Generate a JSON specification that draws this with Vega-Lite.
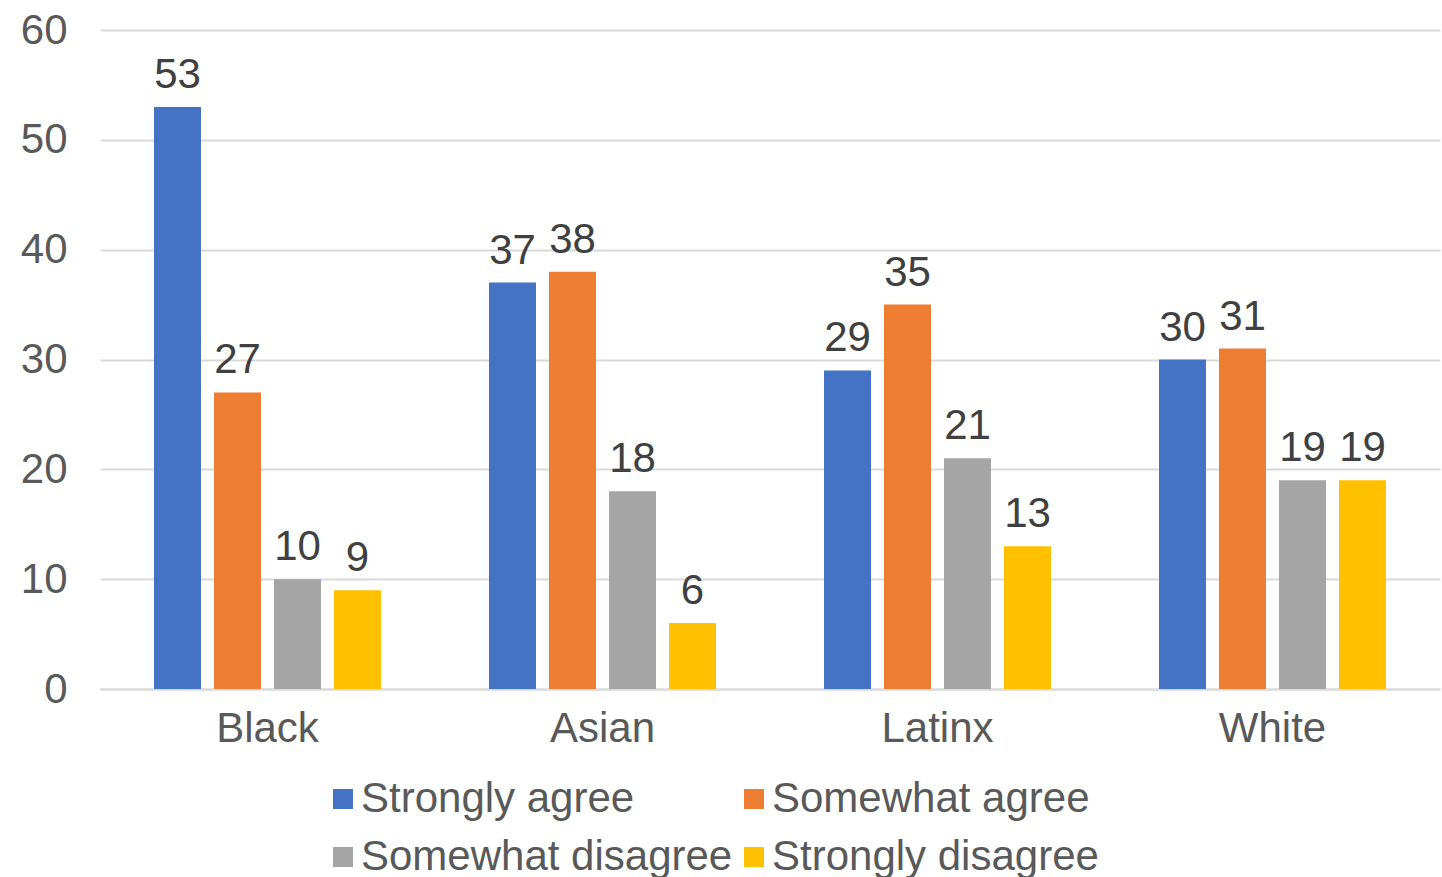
{
  "$schema": "https://vega.github.io/schema/vega-lite/v6.json",
  "autosize": "none",
  "width": 1340,
  "height": 659,
  "padding": {"left": 100, "top": 30, "right": 2, "bottom": 188},
  "background": "white",
  "config": {
    "view": {"stroke": null},
    "font": "Liberation Sans"
  },
  "data": {
    "values": [
      {"group": "Black", "response": "Strongly agree", "value": 53},
      {"group": "Black", "response": "Somewhat agree", "value": 27},
      {"group": "Black", "response": "Somewhat disagree", "value": 10},
      {"group": "Black", "response": "Strongly disagree", "value": 9},
      {"group": "Asian", "response": "Strongly agree", "value": 37},
      {"group": "Asian", "response": "Somewhat agree", "value": 38},
      {"group": "Asian", "response": "Somewhat disagree", "value": 18},
      {"group": "Asian", "response": "Strongly disagree", "value": 6},
      {"group": "Latinx", "response": "Strongly agree", "value": 29},
      {"group": "Latinx", "response": "Somewhat agree", "value": 35},
      {"group": "Latinx", "response": "Somewhat disagree", "value": 21},
      {"group": "Latinx", "response": "Strongly disagree", "value": 13},
      {"group": "White", "response": "Strongly agree", "value": 30},
      {"group": "White", "response": "Somewhat agree", "value": 31},
      {"group": "White", "response": "Somewhat disagree", "value": 19},
      {"group": "White", "response": "Strongly disagree", "value": 19}
    ]
  },
  "encoding": {
    "x": {
      "field": "group", "type": "nominal",
      "sort": ["Black", "Asian", "Latinx", "White"],
      "scale": {"paddingInner": 0, "paddingOuter": 0},
      "axis": {
        "title": null, "labelAngle": 0, "ticks": false,
        "domainColor": "#d9d9d9", "domainWidth": 2,
        "labelFontSize": 42, "labelColor": "#595959", "labelPadding": 19
      }
    },
    "xOffset": {
      "field": "response", "type": "nominal",
      "sort": ["Strongly agree", "Somewhat agree", "Somewhat disagree", "Strongly disagree"],
      "scale": {"paddingInner": 0.217, "paddingOuter": 0.9}
    },
    "y": {
      "field": "value", "type": "quantitative",
      "scale": {"domain": [0, 60], "nice": false},
      "axis": {
        "title": null, "values": [0, 10, 20, 30, 40, 50, 60],
        "domain": false, "ticks": false,
        "gridColor": "#d9d9d9", "gridWidth": 2,
        "labelFontSize": 42, "labelColor": "#595959", "labelPadding": 33
      }
    }
  },
  "layer": [
    {
      "mark": {"type": "bar"},
      "encoding": {
        "color": {
          "field": "response", "type": "nominal",
          "sort": ["Strongly agree", "Somewhat agree", "Somewhat disagree", "Strongly disagree"],
          "scale": {
            "domain": ["Strongly agree", "Somewhat agree", "Somewhat disagree", "Strongly disagree"],
            "range": ["#4472C4", "#ED7D31", "#A5A5A5", "#FFC000"]
          },
          "legend": {
            "title": null, "orient": "none", "direction": "horizontal", "columns": 2,
            "legendX": 222, "legendY": 748,
            "symbolType": "square", "symbolSize": 400, "symbolStrokeWidth": 0,
            "labelFontSize": 42, "labelColor": "#595959", "labelOffset": -3, "labelLimit": 0,
            "columnPadding": 0, "rowPadding": 16
          }
        }
      }
    },
    {
      "mark": {"type": "text", "baseline": "alphabetic", "dy": -19, "fontSize": 42, "color": "#404040"},
      "encoding": {
        "text": {"field": "value", "type": "quantitative"}
      }
    }
  ]
}
